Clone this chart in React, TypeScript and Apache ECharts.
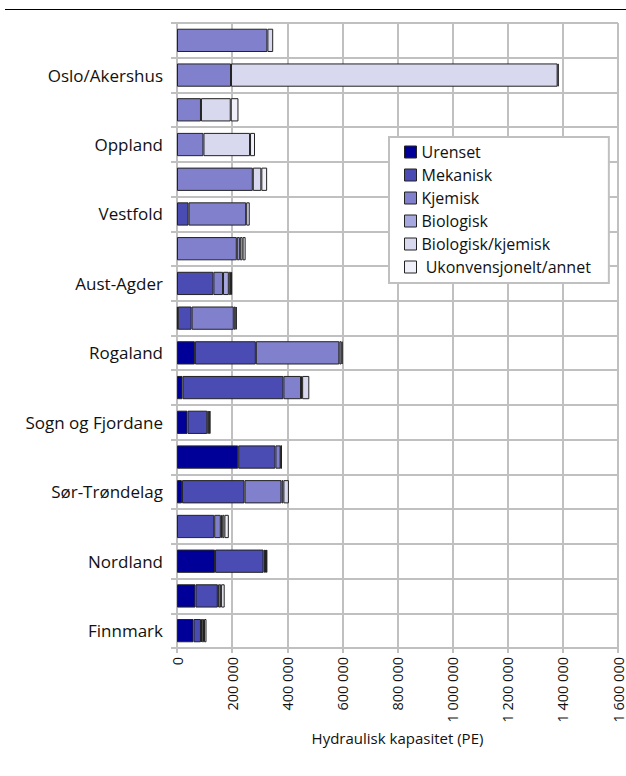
import React, { useEffect, useRef } from "react";
import * as echarts from "echarts";

const categories = [
  "Østfold", "Oslo/Akershus", "Hedmark", "Oppland", "Buskerud", "Vestfold",
  "Telemark", "Aust-Agder", "Vest-Agder", "Rogaland", "Hordaland",
  "Sogn og Fjordane", "Møre og Romsdal", "Sør-Trøndelag", "Nord-Trøndelag",
  "Nordland", "Troms", "Finnmark",
];

const urenset = [0, 0, 0, 0, 0, 0, 0, 0, 3000, 65000, 20000, 38000, 222000, 18000, 0, 138000, 67000, 60000];
const mekanisk = [0, 0, 0, 0, 0, 42000, 0, 132000, 50000, 221000, 366000, 72000, 135000, 227000, 135000, 176000, 81000, 27000];
const kjemisk = [328000, 196000, 87000, 96000, 275000, 209000, 217000, 35000, 153000, 303000, 64000, 5000, 19000, 134000, 24000, 5000, 3000, 3000];
const biologisk = [0, 0, 0, 0, 0, 0, 11000, 21000, 0, 0, 4000, 3000, 0, 7000, 5000, 4000, 0, 0];
const biologiskKjemisk = [21000, 1185000, 108000, 169000, 31000, 13000, 10000, 8000, 7000, 8000, 26000, 3000, 2000, 20000, 8000, 5000, 9000, 8000];
const ukonvensjonelt = [0, 4000, 28000, 18000, 21000, 0, 11000, 4000, 4000, 4000, 0, 0, 2000, 0, 16000, 0, 13000, 9000];

const seriesNames = ["Urenset", "Mekanisk", "Kjemisk", "Biologisk", "Biologisk/kjemisk", "Ukonvensjonelt/annet"];
const seriesData = [urenset, mekanisk, kjemisk, biologisk, biologiskKjemisk, ukonvensjonelt];
const seriesColors = ["#000099", "#4B4BB4", "#8080CC", "#A8A8E0", "#D8D8EE", "#F0F0FA"];

const xTicks = { min: 0, max: 1600000, interval: 200000 };
const axisTitle = "Hydraulisk kapasitet (PE)";

const FONT = "'Open Sans', sans-serif";

export default function App() {
  const ref = useRef<HTMLDivElement>(null);
  useEffect(() => {
    if (!ref.current) return;
    const chart = echarts.init(ref.current, null, { renderer: "svg" });
    const grey = "#c0c0c0";
    chart.setOption({
      animation: false,
      backgroundColor: "#ffffff",
      textStyle: { fontFamily: FONT },
      grid: { left: 177, top: 23, width: 441, height: 625, containLabel: false },
      graphic: [
        {
          type: "line",
          shape: { x1: 5, y1: 9.5, x2: 626, y2: 9.5 },
          style: { stroke: "#000", lineWidth: 1 },
        },
      ],
      legend: {
        orient: "vertical",
        left: 389,
        top: 137,
        itemWidth: 12,
        itemHeight: 12,
        itemGap: 7,
        icon: "rect",
        padding: [7, 18, 8, 15],
        backgroundColor: "#ffffff",
        borderColor: grey,
        borderWidth: 2,
        textStyle: { fontFamily: FONT, fontSize: 16, color: "#111" },
        formatter: (n: string) => (n === "Ukonvensjonelt/annet" ? " " + n : n),
        data: seriesNames.map((n) => ({ name: n, itemStyle: { borderColor: "#222", borderWidth: 1 } })),
      },
      xAxis: {
        type: "value",
        min: xTicks.min,
        max: xTicks.max,
        interval: xTicks.interval,
        name: axisTitle,
        nameLocation: "middle",
        nameGap: 78,
        nameTextStyle: { fontFamily: FONT, fontSize: 15, color: "#111" },
        axisLine: { show: true, lineStyle: { color: grey, width: 2 } },
        axisTick: { show: true, length: 5, lineStyle: { color: grey, width: 2 } },
        splitLine: { show: true, lineStyle: { color: grey, width: 2 } },
        axisLabel: {
          rotate: 90,
          margin: 9,
          fontFamily: FONT,
          fontSize: 14.5,
          color: "#111",
          formatter: (v: number) => String(v).replace(/\B(?=(\d{3})+(?!\d))/g, " "),
        },
      },
      yAxis: {
        type: "category",
        inverse: true,
        data: categories,
        axisLine: { show: true, lineStyle: { color: grey, width: 2 } },
        axisTick: { show: true, interval: 0, length: 6, lineStyle: { color: grey, width: 2 } },
        splitLine: { show: true, interval: 0, lineStyle: { color: grey, width: 2 } },
        axisLabel: {
          interval: (i: number) => i % 2 === 1,
          margin: 14,
          fontFamily: FONT,
          fontSize: 17,
          color: "#111",
        },
      },
      series: seriesNames.map((name, k) => ({
        name,
        type: "bar",
        stack: "total",
        barCategoryGap: "33%",
        data: seriesData[k].map((v) => (v ? v : null)),
        itemStyle: { color: seriesColors[k], borderColor: "#222", borderWidth: 1 },
        emphasis: { disabled: true },
      })),
    });
    return () => chart.dispose();
  }, []);
  return (
    <div
      ref={ref}
      style={{ position: "absolute", left: 0, top: 0, width: 626, height: 776 }}
    />
  );
}
